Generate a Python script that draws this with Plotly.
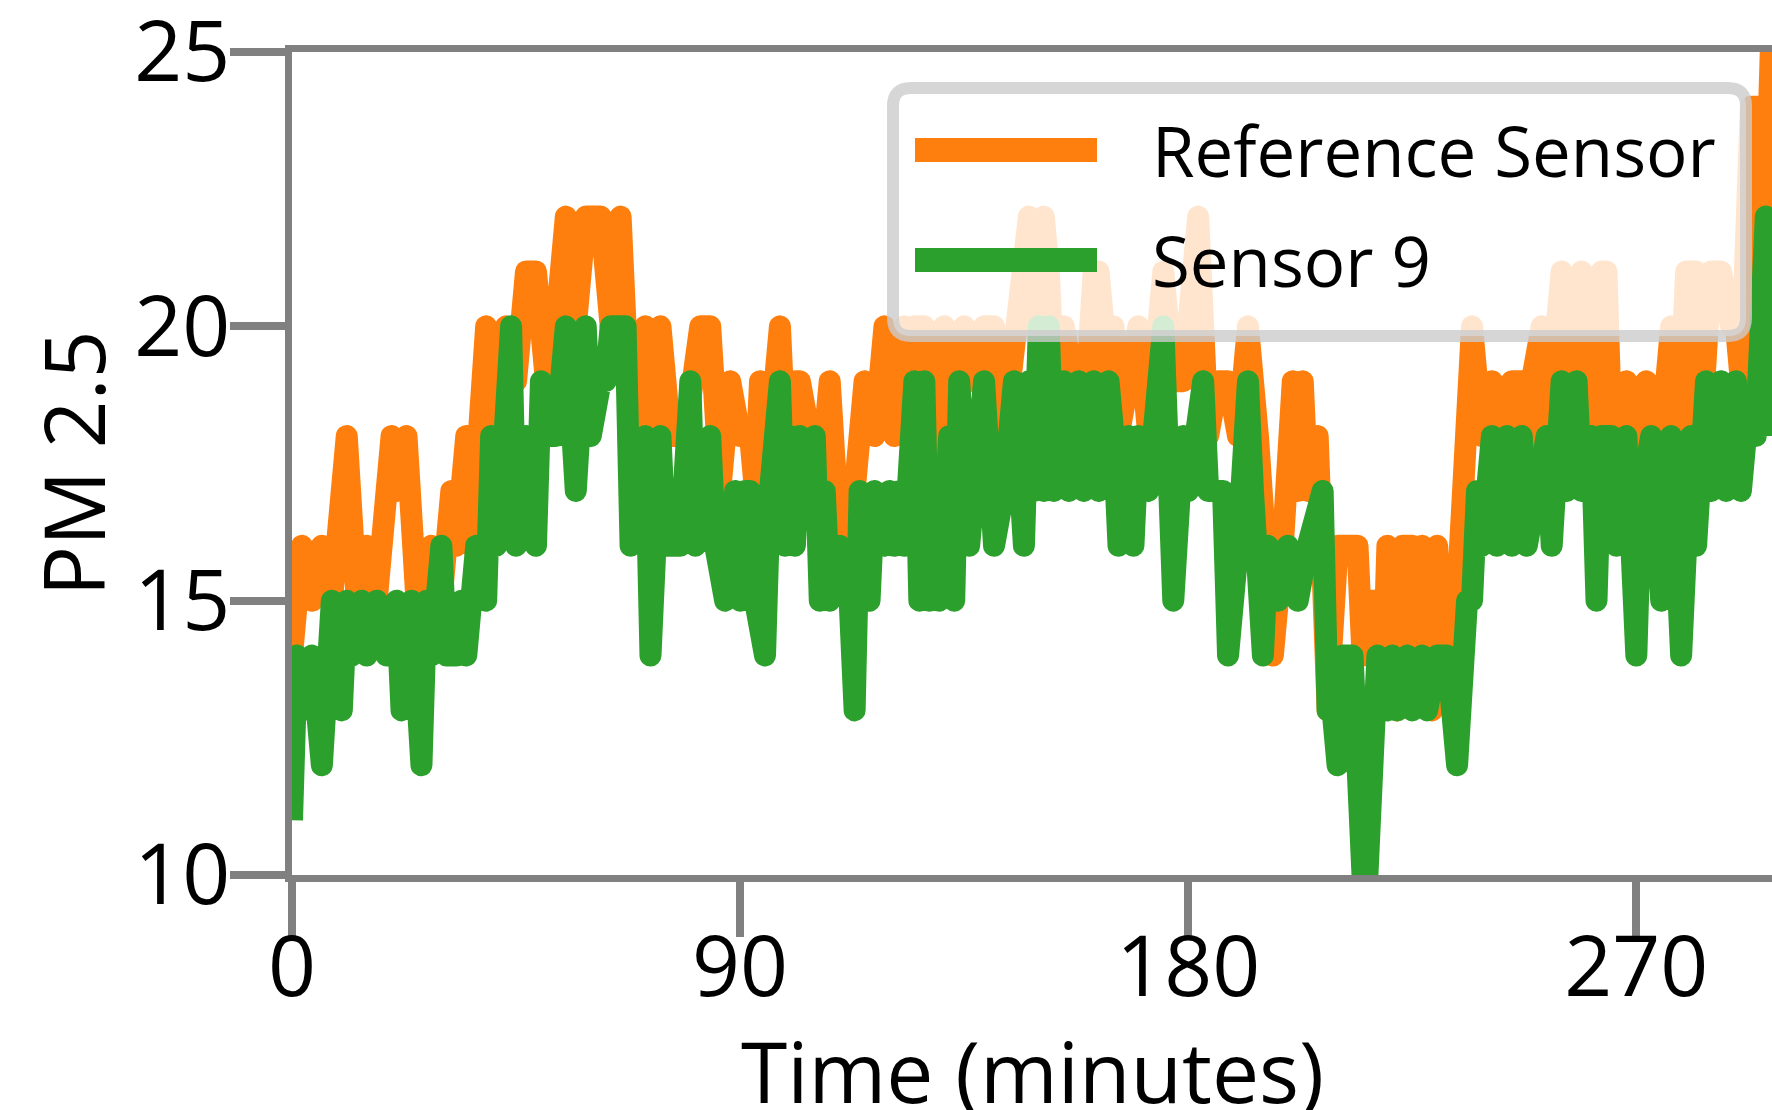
import plotly.graph_objects as go

# ---- data (minutes, PM 2.5) ----
ref_t = [0,2,4,6,8,11,13,15,17,20,21,23,25,28,30,32,33,35,36,39,41,43,45,47,49,51,53,55,57,59,62,64,66,68,71,73,74,76,79,82,84,86,88,90,92,93,94,96,98,99,101,102,104,106,108,110,112,114,115,117,119,121,123,124,125,127,129,131,133,135,137,139,141,143,145,147,148,149,151,152,153,155,157,159,161,162,164,165,166,168,170,172,173,175,177,179,182,184,186,188,190,192,194,195,197,199,201,202,203,204,206,208,210,212,214,215,216,218,219,220,222,223,225,226,227,229,230,231,232,234,236,237,239,240,241,243,245,247,248,249,251,252,254,255,256,258,259,260,261,263,264,265,267,268,270,272,274,276,277,278,280,282,283,285,287,289,290,291,293,295,296,297]
ref_pm = [14,16,15,16,15,18,15,16,15,18,17,18,15,16,15,17,16,18,16,20,18,20,19,21,21,19,20,22,20,22,22,20,22,18,20,18,20,18,18,20,20,17,19,18,18,17,19,18,20,18,19,19,18,17,19,16,16,19,19,18,20,18,20,18,20,20,17,20,19,20,19,20,20,18,20,22,22,20,22,21,19,20,19,18,21,21,19,20,18,19,20,18,19,21,19,19,22,18,19,19,18,20,18,16,14,16,19,17,19,17,18,13,16,16,16,14,15,15,13,16,13,16,16,14,16,13,16,14,15,15,20,20,18,19,19,18,19,19,17,19,20,18,21,21,19,21,21,19,18,21,21,18,18,19,18,19,17,19,20,17,21,21,18,21,21,20,20,19,24,24,22,25]

s9_t = [0,1,2,4,6,8,10,11,12,14,15,17,19,20,21,22,23,24,26,27,28,30,31,33,34,35,37,38,39,40,41,42,44,45,47,49,50,52,53,55,56,57,59,60,62,63,64,66,67,68,71,72,73,74,75,78,80,81,82,83,84,85,87,89,90,91,92,93,95,96,98,99,100,101,102,104,105,106,107,108,110,112,113,114,115,116,117,119,120,121,122,123,125,126,127,128,129,130,132,133,134,136,139,141,143,145,147,148,149,150,151,152,153,155,156,158,159,161,162,164,165,166,168,169,170,172,175,177,179,180,183,184,187,188,190,192,193,195,196,198,200,202,204,206,207,208,209,210,211,213,214,215,216,217,218,220,221,222,224,225,227,228,230,232,234,236,237,238,239,241,242,244,245,247,248,250,252,253,255,256,258,259,261,262,263,265,266,268,270,271,273,275,277,279,281,282,283,284,285,287,288,290,291,292,294,295,296,297]
s9_pm = [11,14,13,14,12,15,13,15,14,15,14,15,14,15,15,13,15,15,12,15,14,16,14,14,15,14,16,15,15,18,16,17,20,16,18,16,19,18,18,20,17,17,20,18,19,19,20,20,20,16,18,14,16,18,16,16,19,16,17,18,18,16,15,17,15,17,17,15,14,17,19,16,18,16,18,17,18,15,17,15,16,15,13,17,16,15,17,16,17,16,17,16,19,15,19,15,17,15,18,15,19,16,19,16,17,19,16,19,17,20,17,20,17,19,17,19,17,19,17,19,18,16,18,16,18,17,20,15,18,17,19,17,17,14,16,19,17,14,16,15,16,15,16,17,17,13,13,12,14,14,11,10,10,12,14,13,14,13,14,13,14,13,14,14,12,15,15,17,16,18,16,18,16,18,16,17,18,16,19,17,19,17,18,15,18,18,16,18,14,17,18,15,18,14,18,16,18,19,17,19,17,19,17,18,18,22,22,18]

series_names = ["Reference Sensor", "Sensor 9"]
series_colors = ["#ff7f0e", "#2ca02c"]
x_ticks = [0, 90, 180, 270]
y_ticks = [10, 15, 20, 25]
x_title = "Time (minutes)"
y_title = "PM 2.5"

FONT = "Open Sans"
W, H = 1772, 1110
ML, MR, MT, MB = 292, 0, 52, 235
PW, PH = W - ML - MR, H - MT - MB
PX_PER_MIN = 4.979

fig = go.Figure()
for t, v, name, col in [(ref_t, ref_pm, series_names[0], series_colors[0]),
                        (s9_t, s9_pm, series_names[1], series_colors[1])]:
    fig.add_trace(go.Scatter(x=t, y=v, mode="lines", name=name,
                             line=dict(color=col, width=22), showlegend=False))

axis_common = dict(showgrid=False, zeroline=False, showline=True, automargin=False,
                   linecolor="#808080", linewidth=7, ticklabeloverflow="allow",
                   ticks="outside", ticklen=55, tickwidth=8, tickcolor="#808080",
                   tickfont=dict(family=FONT, size=84, color="black"))

fig.update_xaxes(range=[0, PW / PX_PER_MIN], tickvals=x_ticks, mirror=True,
                 ticklabelstandoff=-42, **axis_common)
fig.update_yaxes(range=[10, 25], tickvals=y_ticks, mirror=False,
                 ticklabelstandoff=-17,
                 title=dict(text=y_title, font=dict(family=FONT, size=84, color="black"), standoff=3),
                 **axis_common)

# ---- legend drawn as shapes (pixel layout converted to paper) ----
def px(x):
    return (x - ML) / PW

def py(y):
    return (MT + PH - y) / PH

lx0, lx1, ly0, ly1 = px(893), px(1746), py(336), py(88)
rx, ry = 18 / PW, 18 / PH
path = (f"M {lx0+rx},{ly1} L {lx1-rx},{ly1} Q {lx1},{ly1} {lx1},{ly1-ry} "
        f"L {lx1},{ly0+ry} Q {lx1},{ly0} {lx1-rx},{ly0} L {lx0+rx},{ly0} "
        f"Q {lx0},{ly0} {lx0},{ly0+ry} L {lx0},{ly1-ry} Q {lx0},{ly1} {lx0+rx},{ly1} Z")
shapes = [dict(type="path", path=path, xref="paper", yref="paper", layer="above",
               fillcolor="rgba(255,255,255,0.8)", line=dict(color="rgba(204,204,204,0.8)", width=12))]
annotations = [dict(text=x_title, xref="paper", yref="paper", x=0.5, y=py(1070),
                    xanchor="center", yanchor="middle", showarrow=False,
                    font=dict(family=FONT, size=84, color="black"))]
for i, (name, col) in enumerate(zip(series_names, series_colors)):
    yy = py(150 + 110 * i)
    shapes.append(dict(type="line", xref="paper", yref="paper", layer="above",
                       x0=px(915), x1=px(1097), y0=yy, y1=yy,
                       line=dict(color=col, width=24)))
    annotations.append(dict(text=name, xref="paper", yref="paper", x=px(1150), y=yy,
                            xanchor="left", yanchor="middle", showarrow=False,
                            font=dict(family=FONT, size=69, color="black")))

fig.update_layout(width=W, height=H, margin=dict(l=ML, r=MR, t=MT, b=MB),
                  paper_bgcolor="white", plot_bgcolor="white",
                  shapes=shapes, annotations=annotations, showlegend=False)

post = ("document.querySelectorAll('.scatterlayer .js-line').forEach(function(p){"
        "p.style.strokeLinejoin='round';});")
fig.write_html("out.html", post_script=post)
